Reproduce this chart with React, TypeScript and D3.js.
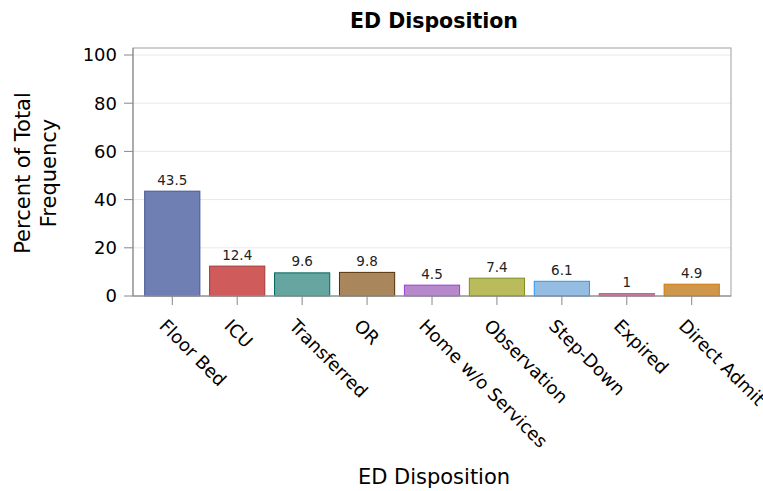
import React, { useEffect, useRef } from 'react';
import * as d3 from 'd3';

const categories = ['Floor Bed', 'ICU', 'Transferred', 'OR', 'Home w/o Services', 'Observation', 'Step-Down', 'Expired', 'Direct Admit'];
const percents = [43.5, 12.4, 9.6, 9.8, 4.5, 7.4, 6.1, 1, 4.9];
const yTicks = [0, 20, 40, 60, 80, 100];
const fills = ['#6F7EB3', '#D05B5B', '#66A5A0', '#A9865B', '#B689CD', '#BABC5C', '#94BDE1', '#CD7BA1', '#CF974B'];
const strokes = ['#445694', '#A23A3A', '#01665E', '#543005', '#9D3CDB', '#7F8E1F', '#2597FA', '#B26084', '#D17800'];

const WIDTH = 763;
const HEIGHT = 491;
const FONT = '"DejaVu Sans", Verdana, sans-serif';

const App: React.FC = () => {
  const svgRef = useRef<SVGSVGElement>(null);

  useEffect(() => {
    const svg = d3.select(svgRef.current);
    svg.selectAll('*').remove();

    const left = 133;
    const right = 731;
    const frameTop = 48;
    const bottom = 296;

    const x = d3.scaleBand<string>()
      .domain(categories)
      .range([left, right])
      .paddingInner(0.15)
      .paddingOuter(0.18);

    const y = d3.scaleLinear().domain([0, 100]).range([bottom, 55]);

    // Title
    svg.append('text')
      .attr('x', (left + right) / 2 + 2)
      .attr('y', 28)
      .attr('text-anchor', 'middle')
      .style('font-family', FONT)
      .style('font-size', '20.5px')
      .style('font-weight', 'bold')
      .text('ED Disposition');

    // Gridlines
    svg.append('g')
      .selectAll('line')
      .data(yTicks.filter(t => t > 0))
      .enter()
      .append('line')
      .attr('x1', left)
      .attr('x2', right)
      .attr('y1', d => y(d))
      .attr('y2', d => y(d))
      .style('stroke', '#E8E8E8')
      .style('stroke-width', 1);

    // Bars
    svg.append('g')
      .selectAll('rect')
      .data(categories)
      .enter()
      .append('rect')
      .attr('x', d => x(d)!)
      .attr('y', (d, i) => y(percents[i]))
      .attr('width', x.bandwidth())
      .attr('height', (d, i) => bottom - y(percents[i]))
      .style('fill', (d, i) => fills[i])
      .style('stroke', (d, i) => strokes[i])
      .style('stroke-width', 1);

    // Bar labels
    svg.append('g')
      .selectAll('text')
      .data(categories)
      .enter()
      .append('text')
      .attr('x', d => x(d)! + x.bandwidth() / 2)
      .attr('y', (d, i) => y(percents[i]) - 6.5)
      .attr('text-anchor', 'middle')
      .style('font-family', FONT)
      .style('font-size', '13.5px')
      .style('fill', '#222')
      .text((d, i) => String(percents[i]));

    // Frame
    svg.append('rect')
      .attr('x', left)
      .attr('y', frameTop)
      .attr('width', right - left)
      .attr('height', bottom - frameTop)
      .style('fill', 'none')
      .style('stroke', '#A0A0A0')
      .style('stroke-width', 1);

    // Y axis
    const yAxis = svg.append('g');
    yAxis.selectAll('line')
      .data(yTicks)
      .enter()
      .append('line')
      .attr('x1', left - 9)
      .attr('x2', left)
      .attr('y1', d => y(d))
      .attr('y2', d => y(d))
      .style('stroke', '#888');
    yAxis.selectAll('text')
      .data(yTicks)
      .enter()
      .append('text')
      .attr('x', left - 16)
      .attr('y', d => y(d))
      .attr('dy', '0.36em')
      .attr('text-anchor', 'end')
      .style('font-family', FONT)
      .style('font-size', '18px')
      .style('fill', '#000')
      .text(d => d);
    yAxis.append('line')
      .attr('x1', left)
      .attr('x2', left)
      .attr('y1', frameTop)
      .attr('y2', bottom)
      .style('stroke', '#888');

    // X axis
    const xAxis = svg.append('g');
    xAxis.append('line')
      .attr('x1', left)
      .attr('x2', right)
      .attr('y1', bottom)
      .attr('y2', bottom)
      .style('stroke', '#888');
    xAxis.selectAll('line.tick')
      .data(categories)
      .enter()
      .append('line')
      .attr('class', 'tick')
      .attr('x1', d => x(d)! + x.bandwidth() / 2)
      .attr('x2', d => x(d)! + x.bandwidth() / 2)
      .attr('y1', bottom)
      .attr('y2', bottom + 9)
      .style('stroke', '#888');
    xAxis.selectAll('text')
      .data(categories)
      .enter()
      .append('text')
      .attr('transform', d => `translate(${x(d)! + x.bandwidth() / 2 - 14},${bottom + 31}) rotate(45)`)
      .attr('text-anchor', 'start')
      .style('font-family', FONT)
      .style('font-size', '18px')
      .style('fill', '#000')
      .text(d => d);

    // Axis titles
    svg.append('text')
      .attr('x', (left + right) / 2 + 2)
      .attr('y', 484)
      .attr('text-anchor', 'middle')
      .style('font-family', FONT)
      .style('font-size', '21px')
      .text('ED Disposition');

    const yTitle = svg.append('text')
      .attr('transform', `translate(0,${(frameTop + bottom) / 2 + 1}) rotate(-90)`)
      .attr('text-anchor', 'middle')
      .style('font-family', FONT)
      .style('font-size', '21px');
    yTitle.append('tspan').attr('x', 0).attr('y', 30).text('Percent of Total');
    yTitle.append('tspan').attr('x', 0).attr('y', 56).text('Frequency');
  }, []);

  return (
    <svg ref={svgRef} width={WIDTH} height={HEIGHT} style={{ display: 'block', position: 'absolute', left: 0, top: 0, background: '#fff' }} />
  );
};

export default App;
